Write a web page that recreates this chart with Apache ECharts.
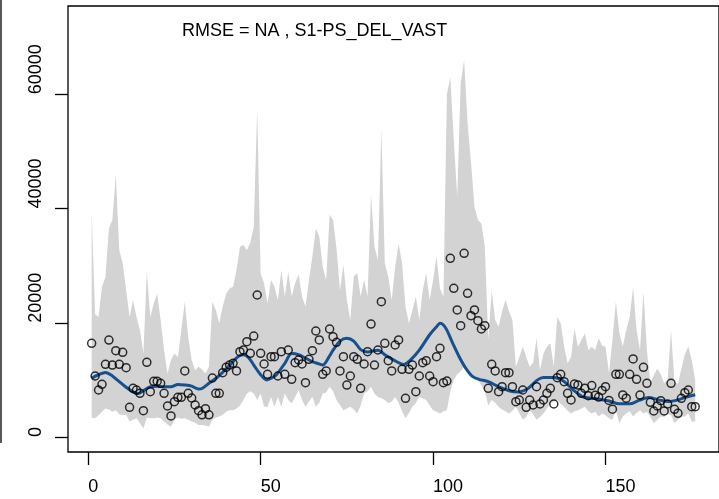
<!DOCTYPE html>
<html>
<head>
<meta charset="utf-8">
<script src="https://cdn.jsdelivr.net/npm/echarts@6/dist/echarts.min.js"></script>
<style>
  html, body { margin: 0; padding: 0; background: #fff; }
  #chart { width: 719px; height: 499px; }
</style>
</head>
<body>
<div id="chart"></div>
<script>
// Observed values, one per time step (t = 1 .. 176)
const observed = [
  16400,10680,8230,9220,12720,16980,12600,15110,12720,14820,
  12140,5190,8520,8230,7640,4610,13070,7940,9750,9750,
  9400,7640,5430,3680,6190,6950,6950,11560,7640,6830,
  5600,4610,3880,4960,3880,10330,7640,7640,11260,12200,
  12600,12900,11560,14940,15220,16690,14650,17680,24860,14650,
  12780,10970,14060,14060,10680,14940,10970,15230,10090,13010,
  13480,12780,9510,13600,15110,18560,16990,10970,11560,18910,
  17560,16580,11560,14060,9100,10680,14060,13600,8520,12780,
  14940,19780,12600,15230,23690,16400,13360,11560,16110,16990,
  11850,6770,11850,12600,7940,10680,13010,13360,10680,9690,
  14060,15520,9510,9800,31280,26030,22240,19490,32160,25150,
  21240,22240,20360,18910,19490,8520,12720,11560,7940,8810,
  11260,11260,8810,6190,6480,8230,5190,6480,5600,8810,
  5780,6480,7640,8520,5780,10390,10970,9690,7640,6480,
  9280,9100,7640,8520,7240,9000,7300,7000,8150,8810,
  6400,4870,10970,10970,7360,6800,10970,13660,10090,7350,
  12200,9400,6070,4550,5430,6360,4550,5780,9400,4840,
  4140,6770,7760,8230,5310,5310
];

// Upper limit of the prediction envelope
const bandUpper = [
  39500,21500,21000,26300,28000,36500,38000,46000,32700,30400,
  25700,21000,24000,21000,18700,14600,28900,21000,23400,25100,
  20500,15200,11100,13500,14600,14000,18700,23700,17500,13500,
  11700,12300,11800,11100,12300,23700,22200,19900,22800,25100,
  26000,26300,29200,33300,33600,32700,34000,36800,57500,28600,
  26900,23400,27500,26300,24000,29200,24600,28900,24600,26900,
  28500,24600,22800,27500,31600,36500,35100,29800,27500,38900,
  38000,33000,25700,30100,24000,20500,28100,28700,24600,27500,
  24600,42400,33300,31000,54000,30400,28100,24000,29800,33900,
  30400,22800,19900,22200,24600,20500,25700,28700,24000,27500,
  31600,26000,24600,60000,63000,52000,42000,62000,66000,55000,
  48000,40300,38000,37400,33300,17000,25700,20500,19300,22000,
  24000,22000,20500,12300,14000,15800,14000,12300,13000,17300,
  11700,14600,15800,16400,12300,21000,19900,15800,12900,14000,
  19000,15800,17000,18100,15200,15800,15200,17300,16000,15800,
  11200,17000,23700,18200,15800,18700,21000,26200,18700,15200,
  25400,15200,9400,10800,12000,11000,9400,10000,18600,9400,
  9400,12000,14500,15800,13500,10000
];

// Lower limit of the prediction envelope
const bandLower = [
  3400,3300,3800,4400,5000,4800,4400,4700,4000,3800,
  3900,2700,3000,3300,2400,1500,3400,3300,3300,3400,
  3300,2700,2200,1800,3000,3400,3200,3300,3000,2700,
  2500,2100,2100,2000,1800,3000,3400,3600,3900,4400,
  4700,4700,5000,5500,6500,7600,8000,7600,6500,7600,
  5300,5300,7000,5300,7000,5300,7600,6500,5900,7000,
  8200,6500,5300,6200,7000,5300,6000,7600,7800,8800,
  8000,6500,5600,4700,5000,5300,4800,4100,5500,7600,
  8000,8800,7600,7000,6800,6500,5900,6200,7000,6000,
  4500,3300,4200,5300,6000,7000,6800,6500,5500,4700,
  4400,4100,4500,4700,8000,10000,11000,11500,12300,12000,
  11000,10500,10000,9000,8000,5500,6500,6000,5300,4800,
  4500,4100,4600,5300,4200,3000,3500,4700,4000,3000,
  3500,4100,5000,5900,6200,6500,5800,5300,4600,4100,
  4500,4700,5000,5300,4500,4100,4400,3600,4100,3800,
  3300,3000,4700,2400,3600,4100,4500,3600,4200,4700,
  4100,4400,3500,2400,3000,3600,3500,4000,3800,2400,
  3000,3600,3600,4100,2700,2700
];

// Smoothed fit: time step and value
const fitT = [1,3,5,7,9,11,13,14.5,16,18,20,22,24,26,28,30,32,33,35,37.5,40,42,43.5,45,46.5,48,50,51.7,53,54.5,57,59,61,63,65,67,68,70,71,73,75,77,79,81,84,86,88.5,91.5,93.5,96,99,101,102,103,104,105.7,107.6,109.5,111.4,113.3,116,119,122,124.6,127.5,130.3,132,135,138,140.7,143.6,147.4,151,154,157,159.7,162.5,165.4,168.2,171,174,176];
const fitV = [10300,10900,11300,10700,9700,8700,7900,7600,8100,8800,8900,8800,8800,9200,9100,8900,8400,8500,9400,10500,11900,13200,14100,14400,13900,12600,10900,10000,10300,10850,12900,14600,14400,13800,13200,12800,12600,14200,15200,16800,17300,16800,15300,14900,15200,14400,13500,12700,13500,15200,17900,19300,19900,19600,18700,16400,14000,12000,10600,10100,9700,8800,8100,7900,8500,10000,10400,10400,9700,8200,7000,6700,6300,5800,5800,6400,6900,6500,6200,6500,7100,7400];

const xTicks = [0, 50, 100, 150];
const yTicks = [0, 20000, 40000, 60000];
const titleText = 'RMSE = NA , S1-PS_DEL_VAST';

const t = observed.map((_, k) => k + 1);
const bandData = t.map((x, k) => [x, bandLower[k], bandUpper[k]]);
const obsData = t.map((x, k) => [x, observed[k]]);
const fitData = fitT.map((x, k) => [x, fitV[k]]);

const FONT = '"Liberation Sans", Arial, sans-serif';

// Envelope drawn as one closed polygon: upper edge forward, lower edge back
function renderBand(params, api) {
  if (params.dataIndex !== 0) return null;
  const pts = [];
  for (let k = 0; k < bandData.length; k++) {
    pts.push(api.coord([bandData[k][0], bandData[k][2]]));
  }
  for (let k = bandData.length - 1; k >= 0; k--) {
    pts.push(api.coord([bandData[k][0], bandData[k][1]]));
  }
  return {
    type: 'polygon',
    shape: { points: pts },
    style: { fill: '#d3d3d3', stroke: null }
  };
}

const chart = echarts.init(document.getElementById('chart'), null, { renderer: 'canvas' });
chart.setOption({
  animation: false,
  backgroundColor: '#ffffff',
  grid: {
    left: 68, top: 6, right: -12, bottom: 47,
    show: true, borderColor: '#000', borderWidth: 1.3, backgroundColor: 'transparent'
  },
  xAxis: {
    type: 'value', min: -5.86, max: 182.9,
    splitLine: { show: false },
    axisLine: { show: false, onZero: false },
    axisTick: { show: true, inside: false, length: 13, customValues: xTicks,
      lineStyle: { color: '#000', width: 1.3 } },
    axisLabel: { show: true, customValues: xTicks, margin: 26, align: 'left',
      formatter: v => String(v),
      color: '#000', fontSize: 18, fontFamily: FONT }
  },
  yAxis: {
    type: 'value', min: -2626, max: 75460,
    splitLine: { show: false },
    axisLine: { show: false, onZero: false },
    axisTick: { show: true, inside: false, length: 13, customValues: yTicks,
      lineStyle: { color: '#000', width: 1.3 } },
    axisLabel: { show: true, customValues: yTicks, rotate: 90, margin: 32,
      align: 'left', verticalAlign: 'middle',
      formatter: v => String(v),
      color: '#000', fontSize: 18, fontFamily: FONT }
  },
  graphic: [
    { type: 'line', shape: { x1: 1, y1: 0, x2: 1, y2: 443 },
      style: { stroke: '#000', lineWidth: 1.3 } },
    { type: 'text', left: 182, top: 22,
      style: { text: titleText, fill: '#000', font: '18px ' + FONT } }
  ],
  series: [
    {
      type: 'custom', name: 'band', data: bandData,
      encode: { x: 0, y: [1, 2] },
      renderItem: renderBand, silent: true, clip: true, z: 1
    },
    {
      type: 'line', name: 'fit', data: fitData, smooth: 0.3,
      symbol: 'none', lineStyle: { color: '#17508e', width: 3 }, z: 3
    },
    {
      type: 'scatter', name: 'observed', data: obsData,
      symbol: 'circle', symbolSize: 8,
      itemStyle: { color: 'rgba(0,0,0,0)', borderColor: '#000', borderWidth: 1.5 },
      z: 4
    }
  ]
});
</script>
</body>
</html>
